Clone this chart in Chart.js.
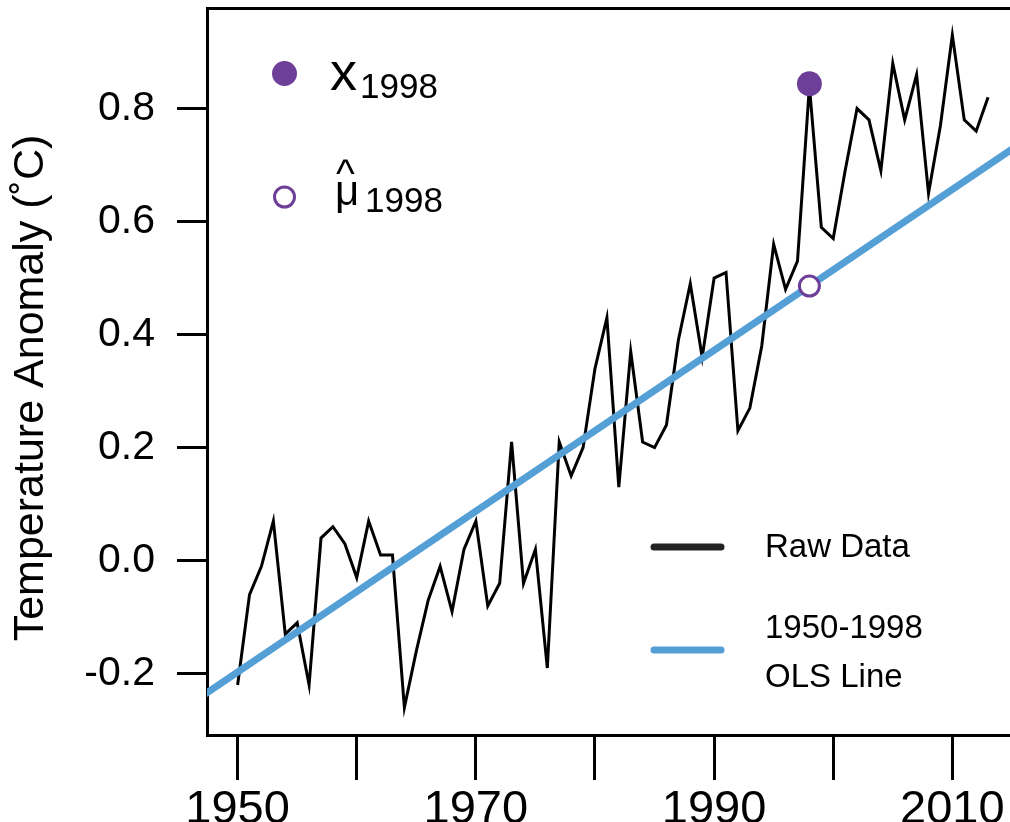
<!DOCTYPE html>
<html>
<head>
<meta charset="utf-8">
<script src="https://cdn.jsdelivr.net/npm/chart.js@4.4.1/dist/chart.umd.min.js"></script>
<style>
  body { margin: 0; background: #fff; }
  #wrap { width: 1010px; height: 822px; }
</style>
</head>
<body>
<div id="wrap"><canvas id="tempChart" width="1010" height="822"></canvas></div>
<script>
// annual anomalies
const years = [1950, 1951, 1952, 1953, 1954, 1955, 1956, 1957, 1958, 1959,
	1960, 1961, 1962, 1963, 1964, 1965, 1966, 1967, 1968, 1969,
	1970, 1971, 1972, 1973, 1974, 1975, 1976, 1977, 1978, 1979,
	1980, 1981, 1982, 1983, 1984, 1985, 1986, 1987, 1988, 1989,
	1990, 1991, 1992, 1993, 1994, 1995, 1996, 1997, 1998, 1999,
	2000, 2001, 2002, 2003, 2004, 2005, 2006, 2007, 2008, 2009,
	2010, 2011, 2012, 2013];
const rawData = [-0.22, -0.06, -0.01, 0.07, -0.13, -0.11, -0.22, 0.04, 0.06, 0.03,
	-0.03, 0.07, 0.01, 0.01, -0.26, -0.16, -0.07, -0.01, -0.09, 0.02,
	0.07, -0.08, -0.04, 0.21, -0.04, 0.02, -0.19, 0.21, 0.15, 0.20,
	0.34, 0.43, 0.13, 0.37, 0.21, 0.20, 0.24, 0.39, 0.49, 0.36,
	0.50, 0.51, 0.23, 0.27, 0.38, 0.56, 0.48, 0.53, 0.84, 0.59,
	0.57, 0.69, 0.80, 0.78, 0.69, 0.88, 0.78, 0.86, 0.65, 0.77,
	0.93, 0.78, 0.76, 0.82];

// 1950-1998 OLS line, two end points
const olsYears = [1947, 2015];
const olsValues = [-0.240, 0.728];

// highlighted points for 1998
const x1998 = [{ x: 1998, y: 0.844 }];
const muHat1998 = [{ x: 1998, y: 0.486 }];

const xTicks = [1950, 1970, 1990, 2010];
const xRange = [1947.43, 2014.84];
const yRange = [-0.3085, 0.978];

const purple = '#6e3f98';
const blue = '#559fd7';
const font = '"Liberation Sans", Arial, Helvetica, sans-serif';

Chart.defaults.font.family = font;
Chart.defaults.color = '#000';

const extras = {
	id: 'extras',
	afterDraw(chart) {
		const c = chart.ctx;
		c.save();
		// y axis title
		c.save();
		c.translate(43, 388);
		c.rotate(-Math.PI / 2);
		c.font = '43px ' + font;
		c.fillStyle = '#000';
		c.textAlign = 'center';
		c.textBaseline = 'alphabetic';
		c.fillText('Temperature Anomaly (\u02DAC)', 0, 0);
		c.restore();

		// top-left key
		c.fillStyle = purple;
		c.beginPath();
		c.arc(284.5, 73.5, 12.5, 0, Math.PI * 2);
		c.fill();
		c.fillStyle = '#fff';
		c.strokeStyle = purple;
		c.lineWidth = 3;
		c.beginPath();
		c.arc(284.5, 197, 10, 0, Math.PI * 2);
		c.fill();
		c.stroke();

		c.fillStyle = '#000';
		c.textAlign = 'left';
		c.textBaseline = 'alphabetic';
		c.font = '54px ' + font;
		c.fillText('x', 330, 90);
		c.font = '35px ' + font;
		c.fillText('1998', 360, 98);
		c.font = '42px ' + font;
		c.fillText('\u03BC', 335, 205);
		c.font = '40px ' + font;
		c.fillText('^', 336, 187);
		c.font = '35px ' + font;
		c.fillText('1998', 365, 212);

		// bottom-right legend
		c.lineCap = 'round';
		c.lineWidth = 7;
		c.strokeStyle = '#222';
		c.beginPath();
		c.moveTo(654, 547);
		c.lineTo(721, 547);
		c.stroke();
		c.strokeStyle = blue;
		c.beginPath();
		c.moveTo(654, 650);
		c.lineTo(721, 650);
		c.stroke();
		c.fillStyle = '#000';
		c.font = '33px ' + font;
		c.fillText('Raw Data', 765, 557);
		c.fillText('1950-1998', 765, 638);
		c.fillText('OLS Line', 765, 687);
		c.restore();
	}
};

const ctx = document.getElementById('tempChart');

new Chart(ctx, {
	type: 'line',
	data: {
		datasets: [{
			label: 'x1998',
			type: 'scatter',
			data: x1998,
			pointRadius: 12.5,
			pointBackgroundColor: purple,
			pointBorderWidth: 0,
			clip: false
		}, {
			label: 'muHat1998',
			type: 'scatter',
			data: muHat1998,
			pointRadius: 10,
			pointBackgroundColor: '#fff',
			pointBorderColor: purple,
			pointBorderWidth: 3,
			clip: false
		}, {
			label: '1950-1998 OLS Line',
			data: olsYears.map((y, i) => ({ x: y, y: olsValues[i] })),
			borderColor: blue,
			borderWidth: 7,
			pointRadius: 0,
			tension: 0
		}, {
			label: 'Raw Data',
			data: years.map((y, i) => ({ x: y, y: rawData[i] })),
			borderColor: '#000',
			borderWidth: 3,
			pointRadius: 0,
			tension: 0,
			borderJoinStyle: 'miter'
		}]
	},
	options: {
		responsive: false,
		animation: false,
		devicePixelRatio: 1,
		layout: { padding: 0, autoPadding: false },
		scales: {
			x: {
				type: 'linear',
				position: 'bottom',
				min: xRange[0],
				max: xRange[1],
				afterFit: s => {
					s.height = 87;
					s.paddingLeft = 0;
					s.paddingRight = 0;
				},
				ticks: {
					stepSize: 10,
					includeBounds: false,
					autoSkip: false,
					maxRotation: 0,
					padding: 2,
					font: { size: 47 },
					color: '#000',
					callback: v => xTicks.includes(v) ? String(v) : ''
				},
				grid: {
					drawOnChartArea: false,
					tickLength: 45,
					tickWidth: 3,
					tickColor: '#000'
				},
				border: { color: '#000', width: 3 }
			},
			xTop: {
				type: 'linear',
				position: 'top',
				min: xRange[0],
				max: xRange[1],
				afterFit: s => {
					s.height = 8;
					s.paddingLeft = 0;
					s.paddingRight = 0;
				},
				ticks: { display: false },
				grid: { drawOnChartArea: false, drawTicks: false },
				border: { color: '#000', width: 3 }
			},
			y: {
				min: yRange[0],
				max: yRange[1],
				afterFit: s => {
					s.width = 207;
					s.paddingTop = 0;
					s.paddingBottom = 0;
				},
				ticks: {
					stepSize: 0.2,
					includeBounds: false,
					padding: 22,
					font: { size: 41 },
					color: '#000',
					callback: v => v.toFixed(1)
				},
				grid: {
					drawOnChartArea: false,
					tickLength: 30,
					tickWidth: 3,
					tickColor: '#000'
				},
				border: { color: '#000', width: 3 }
			}
		},
		plugins: {
			legend: { display: false },
			tooltip: { enabled: false },
			title: { display: false }
		}
	},
	plugins: [extras]
});
</script>
</body>
</html>
